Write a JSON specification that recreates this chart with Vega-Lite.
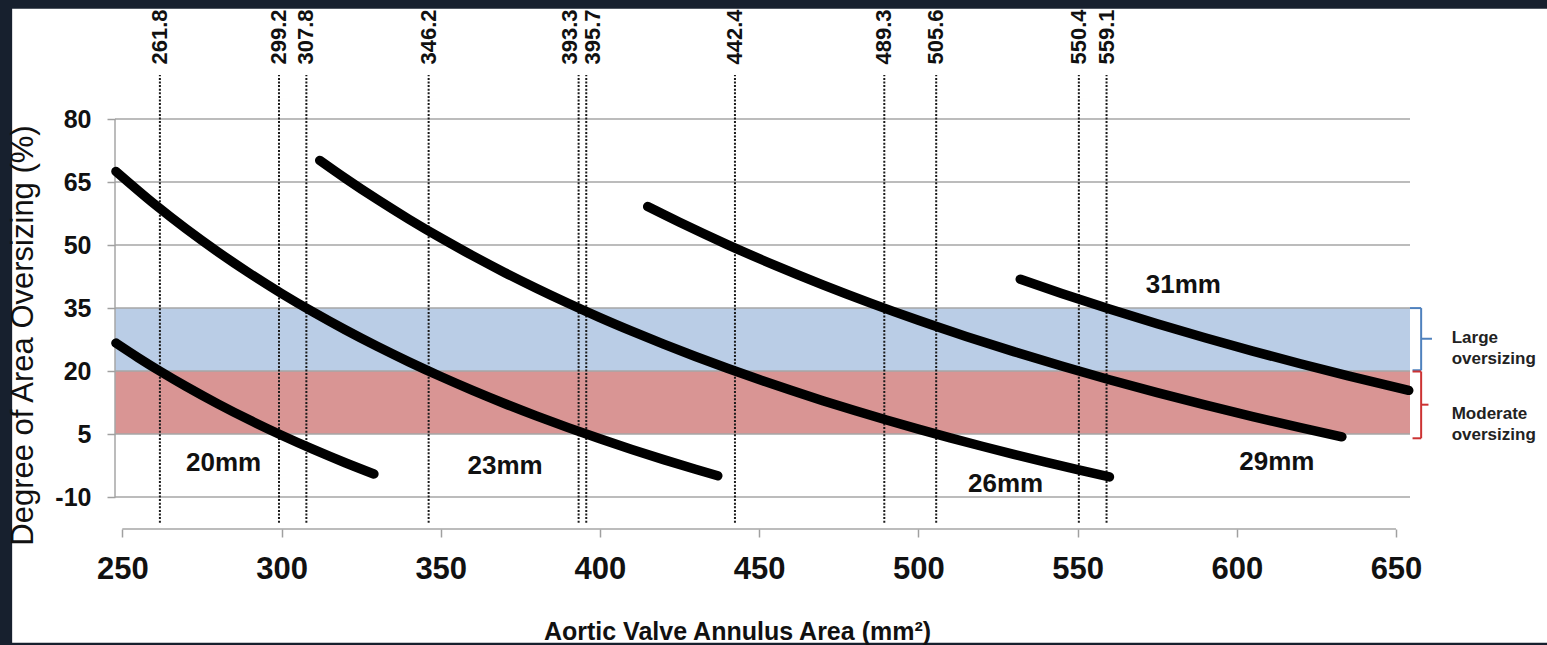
{
  "$schema": "https://vega.github.io/schema/vega-lite/v6.json",
  "width": 1295,
  "height": 454,
  "autosize": {"type": "none"},
  "padding": {"left": 115, "top": 75, "right": 137, "bottom": 116},
  "background": "#17202e",
  "config": {
    "view": {"stroke": null},
    "font": "Liberation Sans",
    "axis": {"zindex": 1}
  },
  "datasets": {
    "curves": [
      {"size": "20mm", "area": 248, "oversize": 26.68},
      {"size": "20mm", "area": 255, "oversize": 23.2},
      {"size": "20mm", "area": 262, "oversize": 19.91},
      {"size": "20mm", "area": 270, "oversize": 16.36},
      {"size": "20mm", "area": 280, "oversize": 12.2},
      {"size": "20mm", "area": 290, "oversize": 8.33},
      {"size": "20mm", "area": 300, "oversize": 4.72},
      {"size": "20mm", "area": 310, "oversize": 1.34},
      {"size": "20mm", "area": 320, "oversize": -1.83},
      {"size": "20mm", "area": 329, "oversize": -4.51},
      {"size": "23mm", "area": 248, "oversize": 67.53},
      {"size": "23mm", "area": 260, "oversize": 59.8},
      {"size": "23mm", "area": 270, "oversize": 53.88},
      {"size": "23mm", "area": 280, "oversize": 48.39},
      {"size": "23mm", "area": 290, "oversize": 43.27},
      {"size": "23mm", "area": 300, "oversize": 38.49},
      {"size": "23mm", "area": 310, "oversize": 34.03},
      {"size": "23mm", "area": 320, "oversize": 29.84},
      {"size": "23mm", "area": 330, "oversize": 25.9},
      {"size": "23mm", "area": 340, "oversize": 22.2},
      {"size": "23mm", "area": 350, "oversize": 18.71},
      {"size": "23mm", "area": 360, "oversize": 15.41},
      {"size": "23mm", "area": 370, "oversize": 12.29},
      {"size": "23mm", "area": 380, "oversize": 9.34},
      {"size": "23mm", "area": 390, "oversize": 6.53},
      {"size": "23mm", "area": 400, "oversize": 3.87},
      {"size": "23mm", "area": 410, "oversize": 1.34},
      {"size": "23mm", "area": 420, "oversize": -1.08},
      {"size": "23mm", "area": 430, "oversize": -3.38},
      {"size": "23mm", "area": 437, "oversize": -4.92},
      {"size": "26mm", "area": 312, "oversize": 70.17},
      {"size": "26mm", "area": 320, "oversize": 65.92},
      {"size": "26mm", "area": 330, "oversize": 60.89},
      {"size": "26mm", "area": 340, "oversize": 56.16},
      {"size": "26mm", "area": 350, "oversize": 51.69},
      {"size": "26mm", "area": 360, "oversize": 47.48},
      {"size": "26mm", "area": 370, "oversize": 43.49},
      {"size": "26mm", "area": 380, "oversize": 39.72},
      {"size": "26mm", "area": 390, "oversize": 36.14},
      {"size": "26mm", "area": 400, "oversize": 32.73},
      {"size": "26mm", "area": 410, "oversize": 29.5},
      {"size": "26mm", "area": 420, "oversize": 26.41},
      {"size": "26mm", "area": 430, "oversize": 23.47},
      {"size": "26mm", "area": 440, "oversize": 20.67},
      {"size": "26mm", "area": 450, "oversize": 17.98},
      {"size": "26mm", "area": 460, "oversize": 15.42},
      {"size": "26mm", "area": 470, "oversize": 12.96},
      {"size": "26mm", "area": 480, "oversize": 10.61},
      {"size": "26mm", "area": 490, "oversize": 8.35},
      {"size": "26mm", "area": 500, "oversize": 6.19},
      {"size": "26mm", "area": 510, "oversize": 4.1},
      {"size": "26mm", "area": 520, "oversize": 2.1},
      {"size": "26mm", "area": 530, "oversize": 0.18},
      {"size": "26mm", "area": 540, "oversize": -1.68},
      {"size": "26mm", "area": 550, "oversize": -3.47},
      {"size": "26mm", "area": 560, "oversize": -5.19},
      {"size": "29mm", "area": 415, "oversize": 59.16},
      {"size": "29mm", "area": 425, "oversize": 55.42},
      {"size": "29mm", "area": 440, "oversize": 50.12},
      {"size": "29mm", "area": 455, "oversize": 45.17},
      {"size": "29mm", "area": 470, "oversize": 40.54},
      {"size": "29mm", "area": 485, "oversize": 36.19},
      {"size": "29mm", "area": 500, "oversize": 32.1},
      {"size": "29mm", "area": 515, "oversize": 28.26},
      {"size": "29mm", "area": 530, "oversize": 24.63},
      {"size": "29mm", "area": 545, "oversize": 21.2},
      {"size": "29mm", "area": 560, "oversize": 17.95},
      {"size": "29mm", "area": 575, "oversize": 14.87},
      {"size": "29mm", "area": 590, "oversize": 11.95},
      {"size": "29mm", "area": 605, "oversize": 9.18},
      {"size": "29mm", "area": 620, "oversize": 6.54},
      {"size": "29mm", "area": 633, "oversize": 4.35},
      {"size": "31mm", "area": 532, "oversize": 41.87},
      {"size": "31mm", "area": 545, "oversize": 38.49},
      {"size": "31mm", "area": 560, "oversize": 34.78},
      {"size": "31mm", "area": 575, "oversize": 31.26},
      {"size": "31mm", "area": 590, "oversize": 27.93},
      {"size": "31mm", "area": 605, "oversize": 24.76},
      {"size": "31mm", "area": 620, "oversize": 21.74},
      {"size": "31mm", "area": 635, "oversize": 18.86},
      {"size": "31mm", "area": 654, "oversize": 15.41}
    ],
    "curveLabels": [
      {"size": "20mm", "area": 281.8, "oversize": -1.9},
      {"size": "23mm", "area": 370.2, "oversize": -2.5},
      {"size": "26mm", "area": 527.4, "oversize": -6.9},
      {"size": "29mm", "area": 612.6, "oversize": -1.7},
      {"size": "31mm", "area": 583.2, "oversize": 40.4}
    ],
    "cutoffs": [
      {"area": 261.8}, {"area": 299.2}, {"area": 307.8}, {"area": 346.2},
      {"area": 393.3}, {"area": 395.7}, {"area": 442.4}, {"area": 489.3},
      {"area": 505.6}, {"area": 550.4}, {"area": 559.1}
    ],
    "bands": [
      {"band": "large", "lo": 20, "hi": 35},
      {"band": "moderate", "lo": 5, "hi": 20}
    ],
    "grid": [
      {"pct": -10}, {"pct": 5}, {"pct": 20}, {"pct": 35},
      {"pct": 50}, {"pct": 65}, {"pct": 80}
    ]
  },
  "layer": [
    {
      "data": {"values": [{}]},
      "mark": {"type": "rect", "fill": "white"},
      "encoding": {
        "x": {
          "datum": 215.4,
          "type": "quantitative",
          "scale": {"domain": [247.7, 654.4], "nice": false, "zero": false},
          "axis": {
            "values": [250, 300, 350, 400, 450, 500, 550, 600, 650],
            "domain": false,
            "grid": false,
            "tickSize": 8,
            "tickColor": "#a0a0a0",
            "tickWidth": 1.5,
            "labelFontSize": 31,
            "labelFontWeight": "bold",
            "labelColor": "#111111",
            "labelPadding": 17,
            "labelFlush": false,
            "labelOverlap": false,
            "title": "Aortic Valve Annulus Area (mm²)",
            "titleFontSize": 25,
            "titleFontWeight": "bold",
            "titleColor": "#111111",
            "titleX": 622,
            "titleY": 110,
            "titleAlign": "center",
            "titleBaseline": "alphabetic",
            "zindex": 1
          }
        },
        "x2": {"datum": 720},
        "y": {
          "datum": 106.3,
          "type": "quantitative",
          "scale": {"domain": [-17.6, 90.5], "nice": false, "zero": false},
          "axis": {
            "values": [-10, 5, 20, 35, 50, 65, 80],
            "labelExpr": "'' + datum.value",
            "domain": false,
            "grid": false,
            "tickSize": 8,
            "tickColor": "#a0a0a0",
            "tickWidth": 1.5,
            "labelFontSize": 25,
            "labelFontWeight": "bold",
            "labelColor": "#111111",
            "labelPadding": 16,
            "labelFlush": false,
            "labelOverlap": false,
            "title": "Degree of Area Oversizing (%)",
            "titleFontSize": 31,
            "titleFontWeight": "normal",
            "titleColor": "#111111",
            "titleAngle": 270,
            "titleX": -76,
            "titleY": 260,
            "titleAlign": "center",
            "titleBaseline": "bottom",
            "zindex": 1
          }
        },
        "y2": {"datum": -44.7}
      }
    },
    {
      "data": {"name": "bands"},
      "mark": {"type": "rect"},
      "encoding": {
        "x": {"datum": 247.7, "type": "quantitative"},
        "x2": {"datum": 654.4},
        "y": {"field": "lo", "type": "quantitative"},
        "y2": {"field": "hi"},
        "fill": {
          "field": "band",
          "type": "nominal",
          "scale": {"domain": ["large", "moderate"], "range": ["#bacde6", "#d99594"]},
          "legend": null
        }
      }
    },
    {
      "data": {"name": "grid"},
      "mark": {"type": "rule", "color": "#a6a6a6", "strokeWidth": 1.5},
      "encoding": {
        "y": {"field": "pct", "type": "quantitative"},
        "x": {"datum": 247.7, "type": "quantitative"},
        "x2": {"datum": 654.4}
      }
    },
    {
      "data": {"values": [{}]},
      "mark": {"type": "rule", "color": "#a6a6a6", "strokeWidth": 1.5},
      "encoding": {
        "x": {"datum": 247.7, "type": "quantitative"},
        "y": {"datum": -10, "type": "quantitative"},
        "y2": {"datum": 80}
      }
    },
    {
      "data": {"values": [{}]},
      "mark": {"type": "rule", "color": "#a6a6a6", "strokeWidth": 1.5},
      "encoding": {
        "y": {"datum": -17.6, "type": "quantitative"},
        "x": {"datum": 250, "type": "quantitative"},
        "x2": {"datum": 650}
      }
    },
    {
      "data": {"name": "cutoffs"},
      "mark": {"type": "rule", "color": "#1a1a1a", "strokeWidth": 2, "strokeDash": [2, 1.6]},
      "encoding": {
        "x": {"field": "area", "type": "quantitative"},
        "y": {"datum": -16.1, "type": "quantitative"},
        "y2": {"datum": 90.5}
      }
    },
    {
      "data": {"name": "cutoffs"},
      "transform": [{"filter": "datum.area != 393.3 && datum.area != 395.7"}],
      "mark": {"type": "text", "angle": 270, "align": "left", "baseline": "middle", "fontSize": 22, "fontWeight": "bold", "color": "#111111"},
      "encoding": {
        "x": {"field": "area", "type": "quantitative"},
        "y": {"datum": 93, "type": "quantitative"},
        "text": {"field": "area", "type": "quantitative", "format": ".1f"}
      }
    },
    {
      "data": {"name": "cutoffs"},
      "transform": [{"filter": "datum.area == 393.3"}],
      "mark": {"type": "text", "angle": 270, "align": "left", "baseline": "middle", "fontSize": 22, "fontWeight": "bold", "color": "#111111", "dy": -8.5},
      "encoding": {
        "x": {"field": "area", "type": "quantitative"},
        "y": {"datum": 93, "type": "quantitative"},
        "text": {"field": "area", "type": "quantitative", "format": ".1f"}
      }
    },
    {
      "data": {"name": "cutoffs"},
      "transform": [{"filter": "datum.area == 395.7"}],
      "mark": {"type": "text", "angle": 270, "align": "left", "baseline": "middle", "fontSize": 22, "fontWeight": "bold", "color": "#111111", "dy": 6.5},
      "encoding": {
        "x": {"field": "area", "type": "quantitative"},
        "y": {"datum": 93, "type": "quantitative"},
        "text": {"field": "area", "type": "quantitative", "format": ".1f"}
      }
    },
    {
      "data": {"name": "curves"},
      "mark": {"type": "line", "color": "#000000", "strokeWidth": 9.5, "strokeCap": "round", "strokeJoin": "round", "interpolate": "monotone"},
      "encoding": {
        "x": {"field": "area", "type": "quantitative"},
        "y": {"field": "oversize", "type": "quantitative"},
        "detail": {"field": "size", "type": "nominal"}
      }
    },
    {
      "data": {"name": "curveLabels"},
      "mark": {"type": "text", "fontSize": 26, "fontWeight": "bold", "color": "#111111", "align": "center", "baseline": "middle"},
      "encoding": {
        "x": {"field": "area", "type": "quantitative"},
        "y": {"field": "oversize", "type": "quantitative"},
        "text": {"field": "size", "type": "nominal"}
      }
    },
    {
      "data": {"values": [{}]},
      "mark": {"type": "rule", "color": "#4f81bd", "strokeWidth": 2},
      "encoding": {
        "x": {"datum": 657.9, "type": "quantitative"},
        "y": {"datum": 35, "type": "quantitative"},
        "y2": {"datum": 20.2}
      }
    },
    {
      "data": {"values": [{}]},
      "mark": {"type": "rule", "color": "#4f81bd", "strokeWidth": 2},
      "encoding": {
        "y": {"datum": 35, "type": "quantitative"},
        "x": {"datum": 654.4, "type": "quantitative"},
        "x2": {"datum": 657.9}
      }
    },
    {
      "data": {"values": [{}]},
      "mark": {"type": "rule", "color": "#4f81bd", "strokeWidth": 2},
      "encoding": {
        "y": {"datum": 20.2, "type": "quantitative"},
        "x": {"datum": 655.2, "type": "quantitative"},
        "x2": {"datum": 657.9}
      }
    },
    {
      "data": {"values": [{}]},
      "mark": {"type": "rule", "color": "#4f81bd", "strokeWidth": 2},
      "encoding": {
        "y": {"datum": 27.7, "type": "quantitative"},
        "x": {"datum": 657.9, "type": "quantitative"},
        "x2": {"datum": 661.3}
      }
    },
    {
      "data": {"values": [{}]},
      "mark": {"type": "rule", "color": "#cc3333", "strokeWidth": 2},
      "encoding": {
        "x": {"datum": 657.9, "type": "quantitative"},
        "y": {"datum": 19.9, "type": "quantitative"},
        "y2": {"datum": 4.0}
      }
    },
    {
      "data": {"values": [{}]},
      "mark": {"type": "rule", "color": "#cc3333", "strokeWidth": 2},
      "encoding": {
        "y": {"datum": 19.9, "type": "quantitative"},
        "x": {"datum": 655.2, "type": "quantitative"},
        "x2": {"datum": 657.9}
      }
    },
    {
      "data": {"values": [{}]},
      "mark": {"type": "rule", "color": "#cc3333", "strokeWidth": 2},
      "encoding": {
        "y": {"datum": 4.0, "type": "quantitative"},
        "x": {"datum": 655.2, "type": "quantitative"},
        "x2": {"datum": 657.9}
      }
    },
    {
      "data": {"values": [{}]},
      "mark": {"type": "rule", "color": "#cc3333", "strokeWidth": 2},
      "encoding": {
        "y": {"datum": 12, "type": "quantitative"},
        "x": {"datum": 657.9, "type": "quantitative"},
        "x2": {"datum": 660.2}
      }
    },
    {
      "data": {"values": [{"label": ["Large", "oversizing"]}]},
      "mark": {"type": "text", "fontSize": 17, "fontWeight": "bold", "color": "#222222", "align": "left", "baseline": "middle", "lineHeight": 21},
      "encoding": {
        "x": {"datum": 667.5, "type": "quantitative"},
        "y": {"datum": 27.8, "type": "quantitative"},
        "text": {"field": "label"}
      }
    },
    {
      "data": {"values": [{"label": ["Moderate", "oversizing"]}]},
      "mark": {"type": "text", "fontSize": 17, "fontWeight": "bold", "color": "#222222", "align": "left", "baseline": "middle", "lineHeight": 21},
      "encoding": {
        "x": {"datum": 667.5, "type": "quantitative"},
        "y": {"datum": 9.8, "type": "quantitative"},
        "text": {"field": "label"}
      }
    }
  ]
}
